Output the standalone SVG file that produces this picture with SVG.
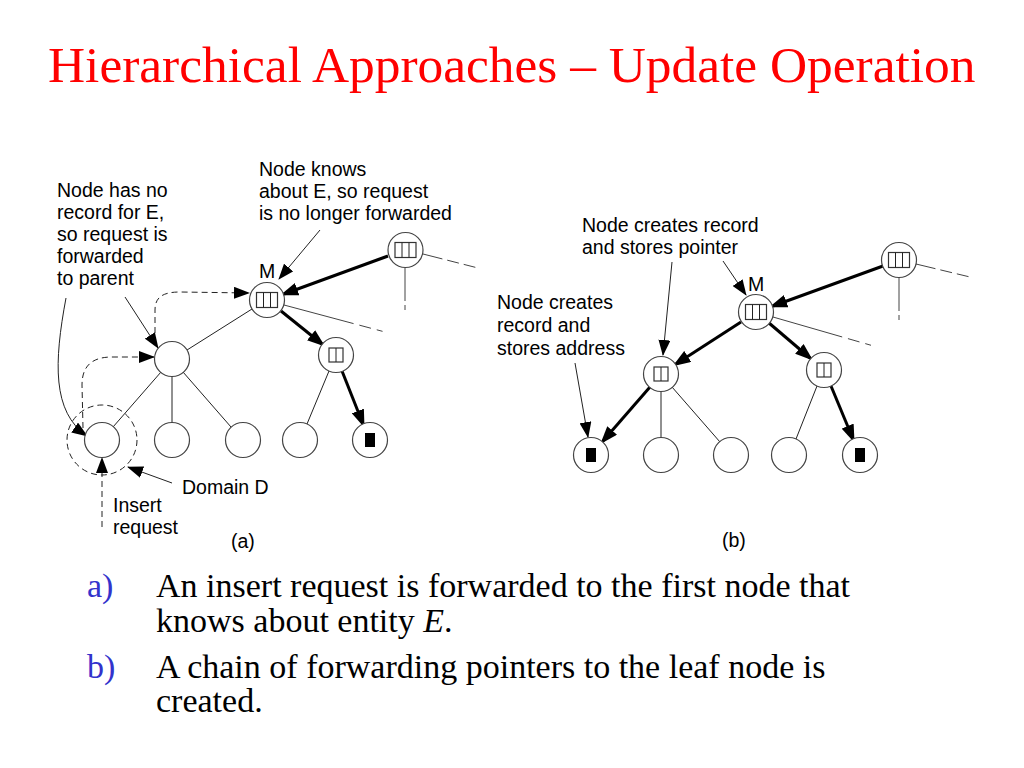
<svg xmlns="http://www.w3.org/2000/svg" width="1024" height="768" viewBox="0 0 1024 768">
<defs>
<style>
.lbl{font-family:"Liberation Sans",Arial,sans-serif;font-size:19.5px;fill:#000}
.title{font-family:"Liberation Serif","Times New Roman",serif;font-size:51.4px;fill:#ff0000}
.body{font-family:"Liberation Serif","Times New Roman",serif;font-size:34px;fill:#000}
.bul{font-family:"Liberation Serif","Times New Roman",serif;font-size:34px;fill:#3333cc}
.nd{fill:#fff;stroke:#444;stroke-width:1.2}
.box{fill:#fff;stroke:#333;stroke-width:1.2}
.thin{fill:none;stroke:#222;stroke-width:1}
.thick{fill:none;stroke:#000;stroke-width:3}
.dash{fill:none;stroke:#222;stroke-width:1;stroke-dasharray:6 4}
.fade{fill:none;stroke:#444;stroke-width:1}
</style>
<marker id="ah" markerUnits="userSpaceOnUse" markerWidth="16" markerHeight="12" refX="15" refY="6" orient="auto">
<path d="M0,0 L16,6 L0,12 Z" fill="#000"/>
</marker>
<marker id="ahk" markerUnits="userSpaceOnUse" markerWidth="18" markerHeight="13" refX="14" refY="6.5" orient="auto">
<path d="M0,0 L18,6.5 L0,13 Z" fill="#000"/>
</marker>
</defs>
<rect width="1024" height="768" fill="#fff"/>

<text class="title" x="48" y="82">Hierarchical Approaches – Update Operation</text>

<g id="connectors">
<line class="thin" x1="252" y1="309" x2="187" y2="350"/>
<line class="thin" x1="161" y1="372" x2="113" y2="427"/>
<line class="thin" x1="172" y1="377" x2="172" y2="423"/>
<line class="thin" x1="183" y1="372" x2="231" y2="427"/>
<line class="thin" x1="329" y1="371" x2="307" y2="424"/>
<line class="fade" x1="284" y1="305" x2="385" y2="332" stroke-dasharray="72 6 12 6 6"/>
<line class="fade" x1="423" y1="254" x2="478" y2="268" stroke-dasharray="20 5 12 5 12"/>
<line class="fade" x1="405" y1="268" x2="405" y2="310" stroke-dasharray="33 4 5"/>
<line class="thick" x1="388" y1="256" x2="284" y2="294" marker-end="url(#ahk)"/>
<line class="thick" x1="281" y1="311" x2="322" y2="344" marker-end="url(#ahk)"/>
<line class="thick" x1="342" y1="371" x2="363" y2="424" marker-end="url(#ahk)"/>
<line class="dash" x1="102" y1="527" x2="102" y2="458" marker-end="url(#ah)"/>
<path class="dash" d="M83 428 L82 385 C82 366 92 357 112 357 L154 357" marker-end="url(#ah)"/>
<path class="dash" d="M155 343 L155 310 C155 297 163 292 180 292 L249 293" marker-end="url(#ah)"/>
<circle class="dash" cx="102" cy="440" r="35"/>
<path class="thin" d="M66 298 C54 362 52 412 87 436" marker-end="url(#ah)"/>
<line class="thin" x1="125" y1="297" x2="158" y2="348" marker-end="url(#ah)"/>
<line class="thin" x1="320" y1="230" x2="279" y2="279" marker-end="url(#ah)"/>
<line class="thin" x1="172" y1="483" x2="128" y2="467" marker-end="url(#ah)"/>

<line class="thin" x1="661" y1="392" x2="661" y2="438"/>
<line class="thin" x1="672" y1="387" x2="720" y2="442"/>
<line class="thin" x1="817" y1="386" x2="796" y2="439"/>
<line class="fade" x1="773" y1="317" x2="877" y2="347" stroke-dasharray="72 6 12 6 6"/>
<line class="fade" x1="916" y1="264" x2="970" y2="277" stroke-dasharray="20 5 12 5 12"/>
<line class="fade" x1="899" y1="278" x2="899" y2="320" stroke-dasharray="33 4 5"/>
<line class="thick" x1="883" y1="266" x2="773" y2="306" marker-end="url(#ahk)"/>
<line class="thick" x1="769" y1="323" x2="810" y2="358" marker-end="url(#ahk)"/>
<line class="thick" x1="741" y1="322" x2="676" y2="364" marker-end="url(#ahk)"/>
<line class="thick" x1="650" y1="387" x2="603" y2="441" marker-end="url(#ahk)"/>
<line class="thick" x1="831" y1="386" x2="853" y2="439" marker-end="url(#ahk)"/>
<line class="thin" x1="672" y1="262" x2="663" y2="355" marker-end="url(#ah)"/>
<line class="thin" x1="723" y1="261" x2="746" y2="295" marker-end="url(#ah)"/>
<line class="thin" x1="575" y1="363" x2="588" y2="437" marker-end="url(#ah)"/>
</g>

<g id="a-top-right">
<circle class="nd" cx="405.5" cy="250" r="17.5"/>
<rect class="box" x="395" y="242.5" width="21" height="15"/>
<line class="thin" x1="402" y1="242.5" x2="402" y2="257.5"/><line class="thin" x1="409" y1="242.5" x2="409" y2="257.5"/>
</g>
<g id="a-M">
<circle class="nd" cx="267" cy="300" r="17.5"/>
<rect class="box" x="256.5" y="292.5" width="21" height="15"/>
<line class="thin" x1="263.5" y1="292.5" x2="263.5" y2="307.5"/><line class="thin" x1="270.5" y1="292.5" x2="270.5" y2="307.5"/>
</g>
<g id="a-mid-left"><circle class="nd" cx="172" cy="359" r="17.5"/></g>
<g id="a-mid-right">
<circle class="nd" cx="336" cy="355" r="17.5"/>
<rect class="box" x="329" y="348" width="14" height="14"/>
<line class="thin" x1="336" y1="348" x2="336" y2="362"/>
</g>
<g id="a-leaf1"><circle class="nd" cx="102" cy="440" r="17.5"/></g>
<g id="a-leaf2"><circle class="nd" cx="172" cy="440" r="17.5"/></g>
<g id="a-leaf3"><circle class="nd" cx="243" cy="440" r="17.5"/></g>
<g id="a-leaf4"><circle class="nd" cx="300" cy="440" r="17.5"/></g>
<g id="a-leaf5"><circle class="nd" cx="370" cy="440" r="17.5"/><rect x="365" y="433" width="10" height="14" fill="#000"/></g>

<g id="b-top-right">
<circle class="nd" cx="899" cy="260" r="17.5"/>
<rect class="box" x="888.5" y="252.5" width="21" height="15"/>
<line class="thin" x1="895.5" y1="252.5" x2="895.5" y2="267.5"/><line class="thin" x1="902.5" y1="252.5" x2="902.5" y2="267.5"/>
</g>
<g id="b-M">
<circle class="nd" cx="756" cy="312" r="17.5"/>
<rect class="box" x="745.5" y="304.5" width="21" height="15"/>
<line class="thin" x1="752.5" y1="304.5" x2="752.5" y2="319.5"/><line class="thin" x1="759.5" y1="304.5" x2="759.5" y2="319.5"/>
</g>
<g id="b-mid-left">
<circle class="nd" cx="661" cy="374" r="17.5"/>
<rect class="box" x="654" y="367" width="14" height="14"/>
<line class="thin" x1="661" y1="367" x2="661" y2="381"/>
</g>
<g id="b-mid-right">
<circle class="nd" cx="824" cy="370" r="17.5"/>
<rect class="box" x="817" y="363" width="14" height="14"/>
<line class="thin" x1="824" y1="363" x2="824" y2="377"/>
</g>
<g id="b-leaf1"><circle class="nd" cx="591" cy="455" r="17.5"/><rect x="586" y="448" width="10" height="14" fill="#000"/></g>
<g id="b-leaf2"><circle class="nd" cx="661" cy="455" r="17.5"/></g>
<g id="b-leaf3"><circle class="nd" cx="731" cy="455" r="17.5"/></g>
<g id="b-leaf4"><circle class="nd" cx="789" cy="455" r="17.5"/></g>
<g id="b-leaf5"><circle class="nd" cx="860" cy="455" r="17.5"/><rect x="855" y="448" width="10" height="14" fill="#000"/></g>

<g id="labels">
<text class="lbl" x="57" y="197">Node has no</text>
<text class="lbl" x="57" y="219">record for E,</text>
<text class="lbl" x="57" y="241">so request is</text>
<text class="lbl" x="57" y="263">forwarded</text>
<text class="lbl" x="57" y="285">to parent</text>
<text class="lbl" x="259" y="176">Node knows</text>
<text class="lbl" x="259" y="198">about E, so request</text>
<text class="lbl" x="259" y="220">is no longer forwarded</text>
<text class="lbl" x="259" y="278">M</text>
<text class="lbl" x="182" y="494">Domain D</text>
<text class="lbl" x="113" y="512">Insert</text>
<text class="lbl" x="113" y="534">request</text>
<text class="lbl" x="231" y="548">(a)</text>
<text class="lbl" x="582" y="232">Node creates record</text>
<text class="lbl" x="582" y="254">and stores pointer</text>
<text class="lbl" x="748" y="291">M</text>
<text class="lbl" x="497" y="309">Node creates</text>
<text class="lbl" x="497" y="332">record and</text>
<text class="lbl" x="497" y="355">stores address</text>
<text class="lbl" x="722" y="547">(b)</text>
</g>

<g id="caption">
<text class="bul" x="87" y="597">a)</text>
<text class="body" x="156" y="597">An insert request is forwarded to the first node that</text>
<text class="body" x="156" y="632">knows about entity <tspan font-style="italic">E</tspan>.</text>
<text class="bul" x="87" y="678">b)</text>
<text class="body" x="156" y="678">A chain of forwarding pointers to the leaf node is</text>
<text class="body" x="156" y="712">created.</text>
</g>
</svg>
